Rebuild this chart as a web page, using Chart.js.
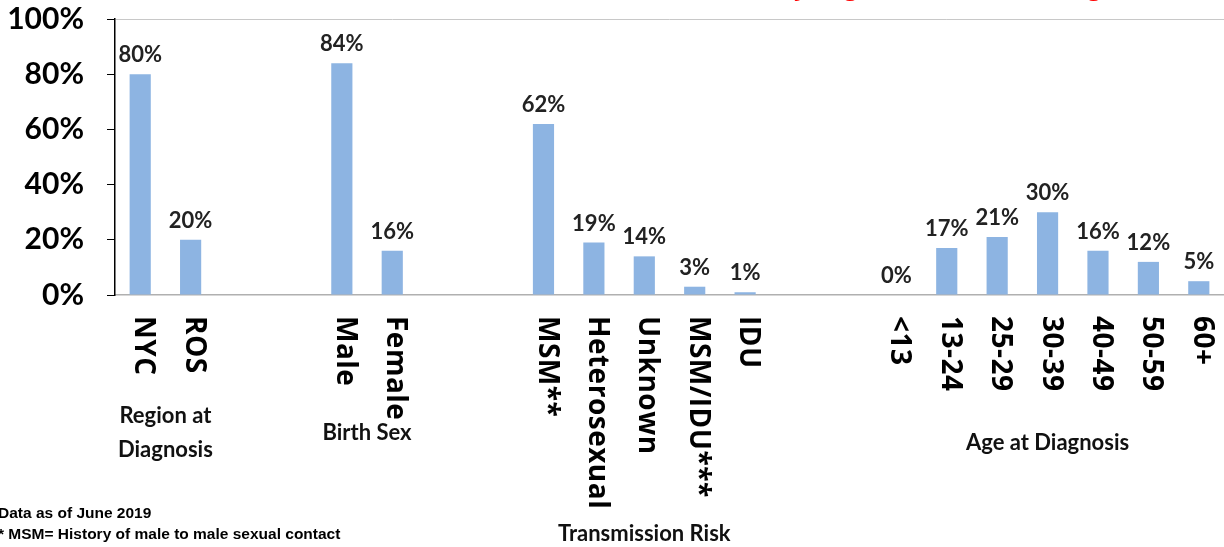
<!DOCTYPE html>
<html lang="en">
  <head>
    <meta charset="UTF-8" />
    <title>Diagnoses by group</title>
    <script src="https://cdn.jsdelivr.net/npm/chart.js@4"></script>
    <style>
      body { margin: 0; background: #fff; overflow: hidden; }
      .wrap { position: relative; width: 1224px; height: 547px; overflow: hidden; }
      .title {
        position: absolute; top: -31px; left: 560px; width: 664px;
        text-align: center; color: #ff0000;
        font: bold 24px "Open Sans", sans-serif; white-space: nowrap;
      }
      .note {
        position: absolute; left: -2px; top: 502px;
        font: bold 15.5px "Liberation Sans", Arial, sans-serif; line-height: 21px;
        color: #000;
      }
    </style>
  </head>
  <body>
    <div class="wrap">
      <canvas id="chart" width="1224" height="547"></canvas>
      <div class="title">Characteristics by Region, Sex, Risk and Age (N=...)</div>
      <div class="note">Data as of June 2019<br />* MSM= History of male to male sexual contact</div>
    </div>
    <script>
      // categories, blanks are the gaps between groups
      var categories = ["NYC", "ROS", "", "", "Male", "Female", "", "",
        "MSM**", "Heterosexual", "Unknown", "MSM/IDU***", "IDU", "", "",
        "<13", "13-24", "25-29", "30-39", "40-49", "50-59", "60+"];
      var percents = [80, 20, null, null, 84, 16, null, null,
        62, 19, 14, 3, 1, null, null,
        0, 17, 21, 30, 16, 12, 5];
      var yTicks = [0, 20, 40, 60, 80, 100];
      // group captions: text lines, first and last category index
      var groups = [
        { lines: ["Region at", "Diagnosis"], from: 0, to: 1, y: 416 },
        { lines: ["Birth Sex"], from: 4, to: 5, y: 433 },
        { lines: ["Transmission Risk"], from: 8, to: 12, y: 534 },
        { lines: ["Age at Diagnosis"], from: 15, to: 21, y: 443 },
      ];

      var labelFont = 'bold 22px Lato, "Open Sans", sans-serif';

      var drawExtras = {
        id: "drawExtras",
        afterDatasetsDraw(chart) {
          var ctx = chart.ctx;
          var meta = chart.getDatasetMeta(0);
          var xs = chart.scales.x;
          ctx.save();
          // value labels
          ctx.font = labelFont;
          ctx.fillStyle = "#222";
          ctx.textAlign = "center";
          ctx.textBaseline = "bottom";
          meta.data.forEach((bar, i) => {
            if (percents[i] === null) return;
            ctx.fillText(percents[i] + "%", bar.x, bar.y - 8);
          });
          // rotated category labels, reading top to bottom
          ctx.font = 'bold 28px "Open Sans", sans-serif';
          ctx.letterSpacing = "0.5px";
          ctx.fillStyle = "#000";
          ctx.textAlign = "left";
          ctx.textBaseline = "middle";
          categories.forEach((c, i) => {
            if (!c) return;
            ctx.save();
            ctx.translate(xs.getPixelForValue(i) + 3, xs.top + 21);
            ctx.rotate(Math.PI / 2);
            ctx.fillText(c, 0, 0);
            ctx.restore();
          });
          ctx.letterSpacing = "0px";
          // group captions
          ctx.font = labelFont;
          ctx.fillStyle = "#111";
          ctx.textAlign = "center";
          groups.forEach((g) => {
            var cx = (xs.getPixelForValue(g.from) + xs.getPixelForValue(g.to)) / 2;
            g.lines.forEach((t, k) => ctx.fillText(t, cx, g.y + k * 34));
          });
          ctx.restore();
        },
      };

      new Chart(document.getElementById("chart"), {
        type: "bar",
        data: {
          labels: categories,
          datasets: [{
            data: percents,
            backgroundColor: "#8db4e2",
            barPercentage: 0.84,
            categoryPercentage: 0.5,
          }],
        },
        options: {
          responsive: false,
          animation: false,
          layout: { padding: { top: 19, right: 0, left: 0, bottom: 0 } },
          plugins: { legend: { display: false }, tooltip: { enabled: false } },
          scales: {
            x: {
              grid: { display: false },
              border: { color: "#b0b0b0", width: 1.5 },
              ticks: { display: false },
              afterFit: (s) => { s.height = 252; s.paddingLeft = 0; s.paddingRight = 0; },
            },
            y: {
              min: 0,
              max: 100,
              afterBuildTicks: (s) => { s.ticks = yTicks.map((v) => ({ value: v })); },
              grid: {
                color: (c) => (c.tick && c.tick.value === 100 ? "#c8c8c8" : "transparent"),
                tickColor: "#000",
                tickLength: 8,
              },
              border: { color: "#000", width: 1.5 },
              ticks: {
                padding: 23,
                color: "#000",
                font: { family: "Lato", weight: "bold", size: 30 },
                callback: (v) => v + "%",
              },
              afterFit: (s) => { s.width = 115; s.paddingTop = 0; s.paddingBottom = 0; },
            },
          },
        },
        plugins: [drawExtras],
      });
    </script>
  </body>
</html>
